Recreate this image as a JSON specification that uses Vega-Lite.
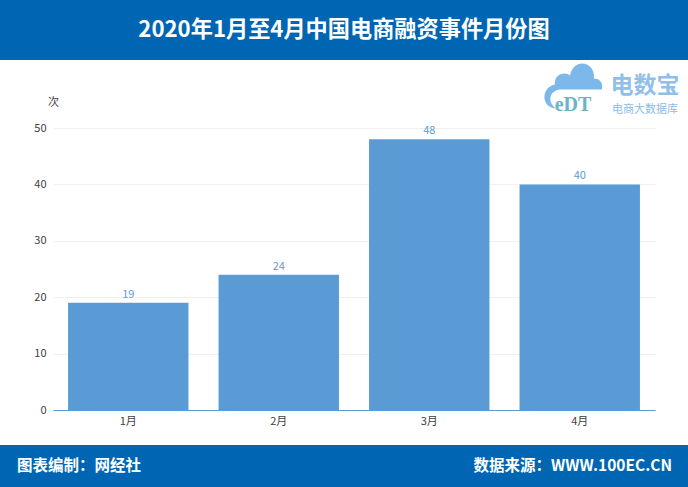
{"$schema": "https://vega.github.io/schema/vega-lite/v6.json",
"padding": 0,
"spacing": 0,
"bounds": "flush",
"background": "#ffffff",
"config": {"view": {"stroke": null}, "font": "Noto Sans CJK SC"},
"vconcat": [
  {
    "width": 688, "height": 60,
    "view": {"fill": "#0066B3", "stroke": null},
    "data": {"values": [{"label": "2020年1月至4月中国电商融资事件月份图"}]},
    "mark": {"type": "text", "color": "#ffffff", "fontSize": 22.2, "fontWeight": "bold"},
    "encoding": {"text": {"field": "label"}}
  },
  {
    "width": 688, "height": 68,
    "data": {"values": [
      {"col": "logo", "row": "name", "label": "eDT", "kind": "cloud"},
      {"col": "name", "row": "name", "label": "电数宝", "kind": "name"},
      {"col": "name", "row": "sub", "label": "电商大数据库", "kind": "sub"},
      {"col": "logo", "row": "sub", "label": "eDT", "kind": "mark"}
    ]},
    "encoding": {
      "x": {"field": "col", "type": "nominal", "axis": null, "scale": {"type": "point", "padding": 0, "domain": ["logo", "name"], "range": [573, 645]}},
      "y": {"field": "row", "type": "nominal", "axis": null, "scale": {"type": "point", "padding": 0, "domain": ["name", "sub"], "range": [26, 50]}}
    },
    "layer": [
      {"transform": [{"filter": "datum.kind === 'cloud'"}],
       "mark": {"type": "point", "filled": true, "opacity": 1, "color": "#7DB8EC", "size": 3600,
         "shape": "M-0.55,0.75 C-1.05,0.75 -1.1,0.05 -0.6,-0.05 C-0.65,-0.4 -0.25,-0.5 -0.1,-0.35 C0,-0.95 0.75,-0.85 0.7,-0.25 C1.05,-0.25 1.05,0.2 0.8,0.3 L0.2,0.3 L0.2,0.75 Z"}},
      {"transform": [{"filter": "datum.kind === 'cloud'"}],
       "mark": {"type": "point", "filled": true, "opacity": 1, "color": "#ffffff", "size": 3600,
         "shape": "M-0.5,0.8 C-0.85,0.6 -0.85,0.2 -0.45,0.12 L1,0.12 L1,0.8 Z"}},
      {"transform": [{"filter": "datum.kind === 'mark'"}],
       "mark": {"type": "text", "font": "Liberation Serif", "fontSize": 20, "fontWeight": "bold", "color": "#6DB3C6", "dy": -5},
       "encoding": {"text": {"field": "label"}}},
      {"transform": [{"filter": "datum.kind === 'name'"}],
       "mark": {"type": "text", "fontSize": 23, "fontWeight": "bold", "color": "#8FBFEA"},
       "encoding": {"text": {"field": "label"}}},
      {"transform": [{"filter": "datum.kind === 'sub'"}],
       "mark": {"type": "text", "fontSize": 11, "color": "#8DBBE6"},
       "encoding": {"text": {"field": "label"}}}
    ]
  },
  {
    "width": 688, "height": 282,
    "data": {"values": [
      {"month": "1月", "count": 19},
      {"month": "2月", "count": 24},
      {"month": "3月", "count": 48},
      {"month": "4月", "count": 40}
    ]},
    "encoding": {
      "x": {"field": "month", "type": "nominal", "title": null, "sort": null,
        "scale": {"range": [53, 655], "paddingInner": 0.2, "paddingOuter": 0.1},
        "axis": {"labelAngle": 0, "ticks": false, "domainColor": "#5B9BD5", "labelColor": "#404040", "labelFontSize": 11, "labelPadding": 5}},
      "y": {"field": "count", "type": "quantitative", "title": "次",
        "scale": {"domain": [0, 50]},
        "axis": {"offset": -53, "values": [0, 10, 20, 30, 40, 50], "domain": false, "ticks": false, "gridColor": "#F0F0F0", "labelColor": "#404040", "labelFontSize": 11, "labelPadding": 7,
          "titleAngle": 0, "titleX": 0, "titleY": -26, "titleAlign": "center", "titleBaseline": "middle", "titleFontWeight": "normal", "titleFontSize": 11, "titleColor": "#404040"}}
    },
    "layer": [
      {"mark": {"type": "bar", "color": "#5B9BD5"}},
      {"mark": {"type": "text", "baseline": "bottom", "dy": -3, "color": "#5B9BD5", "fontSize": 11},
       "encoding": {"text": {"field": "count", "type": "quantitative"}}}
    ]
  },
  {"width": 688, "height": 35, "data": {"values": []}, "mark": "rect"},
  {
    "width": 688, "height": 42,
    "view": {"fill": "#0066B3", "stroke": null},
    "data": {"values": [
      {"side": "left", "label": "图表编制：网经社"},
      {"side": "right", "label": "数据来源：WWW.100EC.CN"}
    ]},
    "encoding": {
      "x": {"field": "side", "type": "nominal", "axis": null, "scale": {"type": "point", "padding": 0, "domain": ["left", "right"], "range": [17, 672]}},
      "text": {"field": "label"}
    },
    "layer": [
      {"transform": [{"filter": "datum.side === 'left'"}],
       "mark": {"type": "text", "align": "left", "color": "#ffffff", "fontSize": 15.5, "fontWeight": "bold"}},
      {"transform": [{"filter": "datum.side === 'right'"}],
       "mark": {"type": "text", "align": "right", "color": "#ffffff", "fontSize": 15.5, "fontWeight": "bold"}}
    ]
  }
]
}
